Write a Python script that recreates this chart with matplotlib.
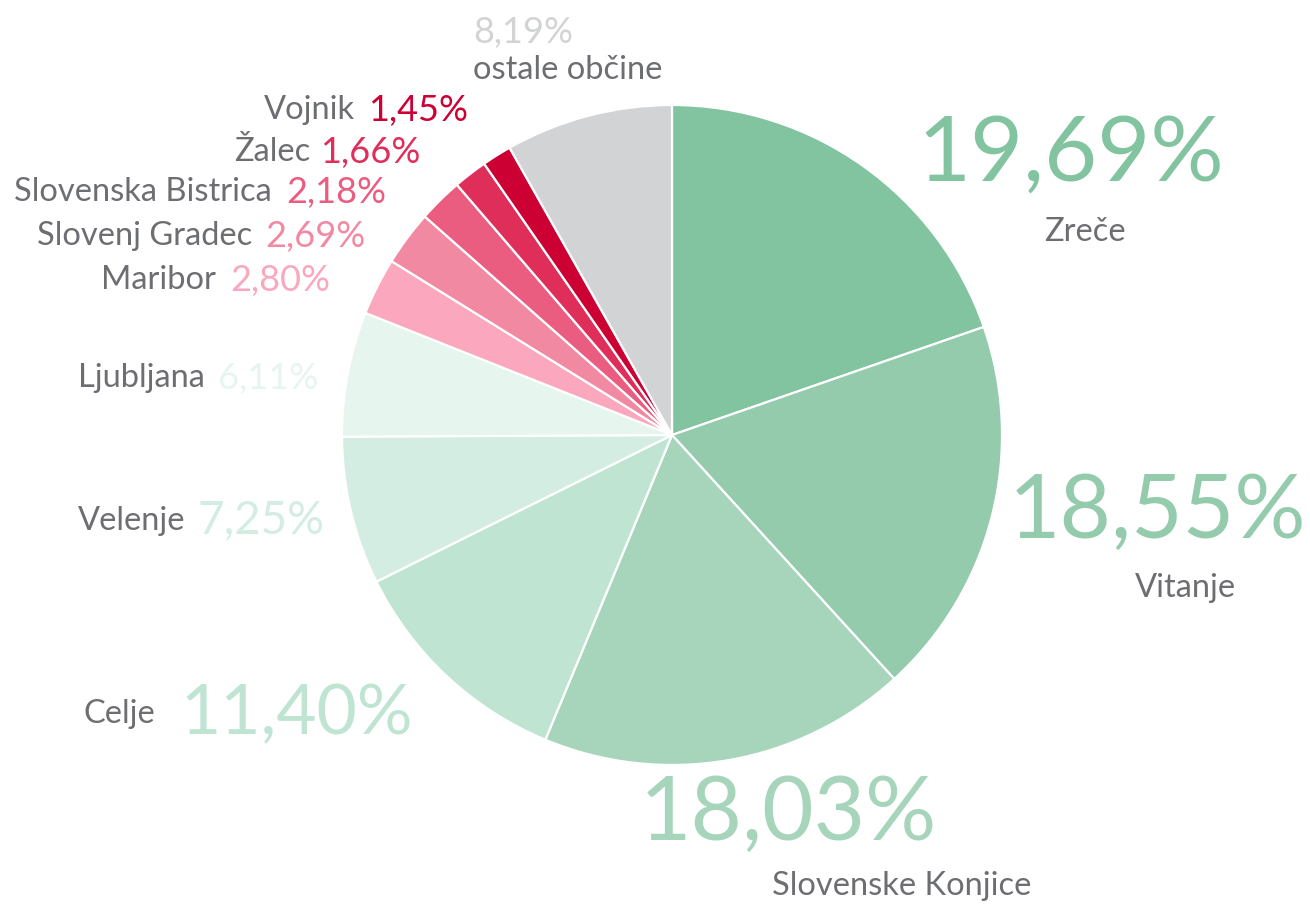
import matplotlib
matplotlib.use("Agg")
import matplotlib.pyplot as plt

# share of visitors by municipality, clockwise from 12 o'clock
municipalities = ["Zreče", "Vitanje", "Slovenske Konjice", "Celje", "Velenje", "Ljubljana",
                  "Maribor", "Slovenj Gradec", "Slovenska Bistrica", "Žalec", "Vojnik",
                  "ostale občine"]
shares = [19.69, 18.55, 18.03, 11.40, 7.25, 6.11, 2.80, 2.69, 2.18, 1.66, 1.45, 8.19]
colors = ["#82c3a0", "#93cbac", "#a7d5bb", "#bfe5d2", "#d3ede3", "#e6f5ee",
          "#fba7bd", "#f289a3", "#ea5c80", "#df2e5a", "#cc0033", "#d1d3d4"]

W, H = 1310, 907
NAME_COLOR = "#6d6e71"
NAME_SIZE = 23.5
FONT = ["Lato", "DejaVu Sans"]


def fmt(v):
    return f"{v:.2f}".replace(".", ",") + "%"


fig = plt.figure(figsize=(W / 100, H / 100), dpi=100)
ax = fig.add_axes([0, 0, 1, 1])

ax.pie(shares, colors=colors, startangle=90, counterclock=False,
       center=(672, H - 435), radius=330, frame=True,
       wedgeprops=dict(edgecolor="white", linewidth=1.6))
ax.set_xlim(0, W)
ax.set_ylim(0, H)
ax.set_aspect("equal")
ax.axis("off")

# label layout, pixel positions measured from the top-left corner
#   "side":  (kind, name right x, value left x, y, value size)
#   "stack": (kind, value centre x, value y, name centre x, name y, value size)
layout = {
    "Zreče": ("stack", 1071, 155, 1085, 232, 66),
    "Vitanje": ("stack", 1157, 513, 1185, 588, 64),
    "Slovenske Konjice": ("stack", 788, 815, 902, 886, 64),
    "ostale občine": ("top", 473, 32, 473, 70, 26),
    "Celje": ("side", 155, 180, 714, 50),
    "Velenje": ("side", 185, 198, 521, 33),
    "Ljubljana": ("side", 205, 218, 378, 26),
    "Maribor": ("side", 216, 230, 280, 26),
    "Slovenj Gradec": ("side", 252, 265, 236, 26),
    "Slovenska Bistrica": ("side", 272, 286, 192, 26),
    "Žalec": ("side", 310, 320, 152, 26),
    "Vojnik": ("side", 355, 368, 110, 26),
}

for name, val, col in zip(municipalities, shares, colors):
    spec = layout[name]
    if spec[0] == "side":
        _, xn, xv, y, size = spec
        ax.text(xn, H - y, name, ha="right", va="center", fontsize=NAME_SIZE,
                color=NAME_COLOR, family=FONT)
        ax.text(xv, H - y, fmt(val), ha="left", va="center", fontsize=size,
                color=col, family=FONT)
    else:
        kind, xv, yv, xn, yn, size = spec
        ha = "center" if kind == "stack" else "left"
        ax.text(xv, H - yv, fmt(val), ha=ha, va="center", fontsize=size,
                color=col, family=FONT)
        ax.text(xn, H - yn, name, ha=ha, va="center", fontsize=NAME_SIZE,
                color=NAME_COLOR, family=FONT)

fig.savefig("out.png", dpi=100)
